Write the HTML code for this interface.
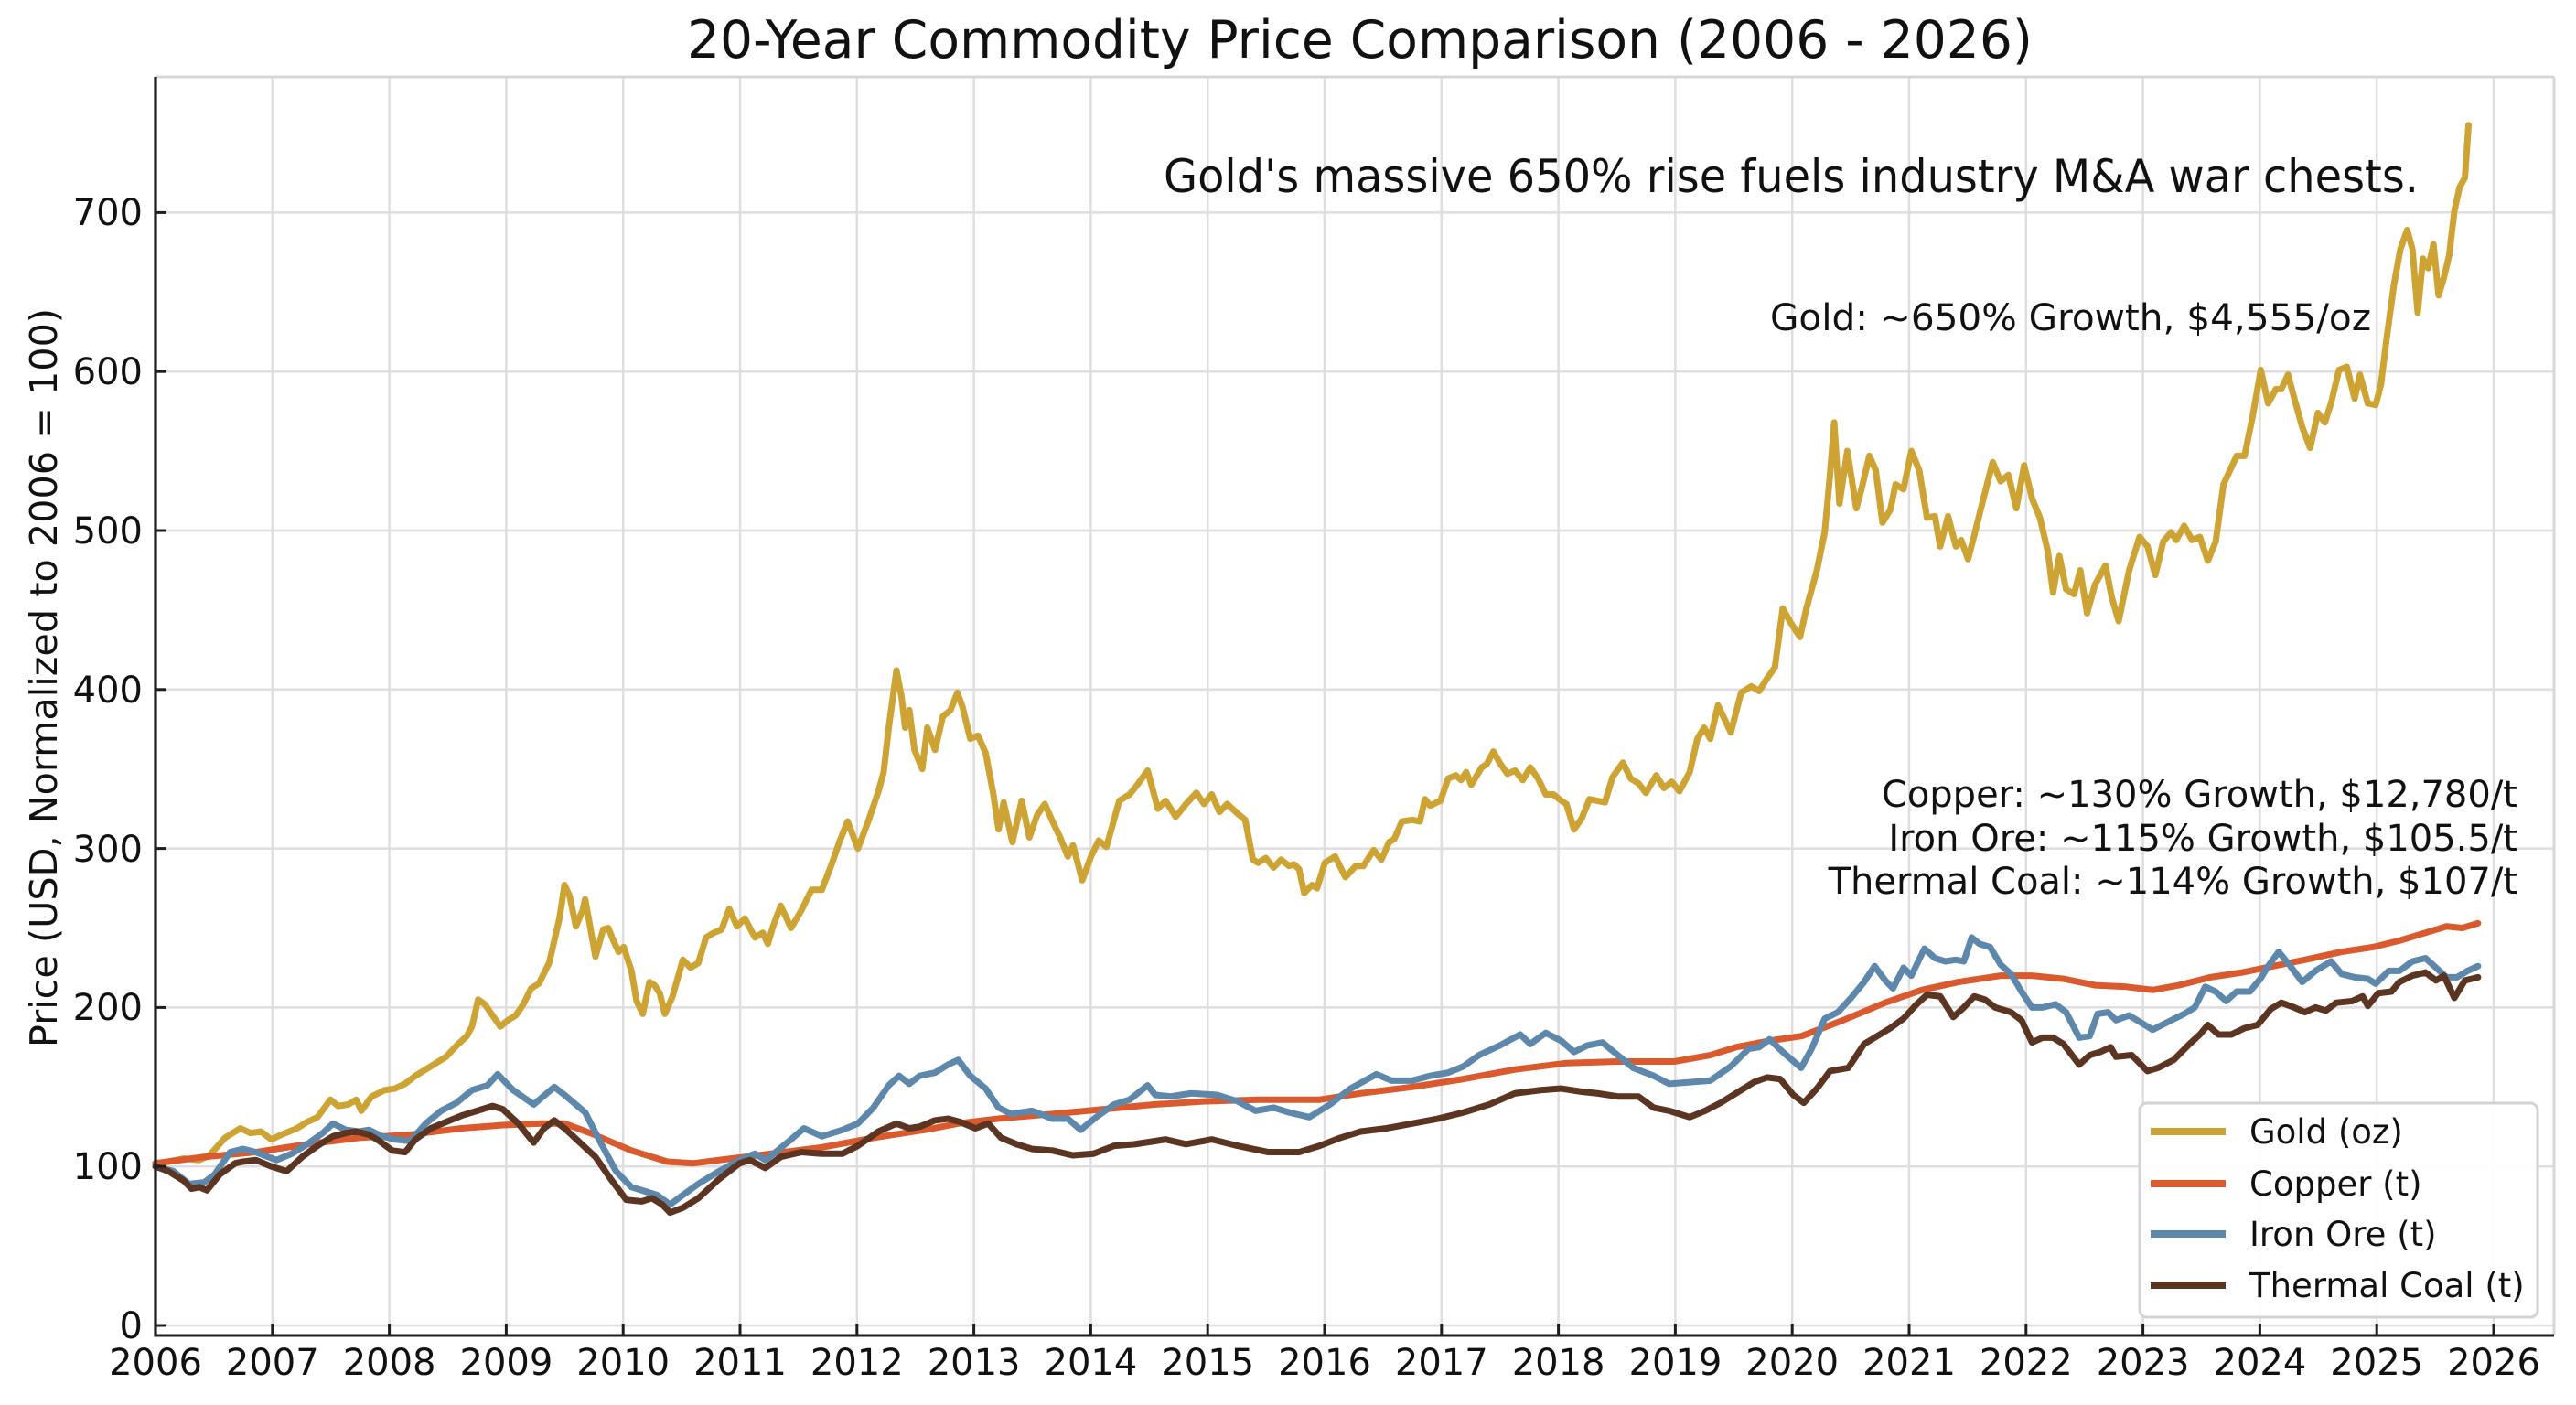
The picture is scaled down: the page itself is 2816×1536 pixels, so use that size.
<!DOCTYPE html>
<html>
<head>
<meta charset="utf-8">
<style>
  html,body{margin:0;padding:0;background:#ffffff;}
  svg{display:block;}
  text{font-family:"DejaVu Sans","Liberation Sans",sans-serif;fill:#111;}
</style>
</head>
<body>
<svg xmlns="http://www.w3.org/2000/svg" width="2816" height="1536" viewBox="0 0 2816 1536">
  <rect x="0" y="0" width="2816" height="1536" fill="#ffffff"/>

  <!-- grid -->
  <g stroke="#e0dde0" stroke-width="2.5">
    <line x1="297.8" y1="84" x2="297.8" y2="1460"/>
    <line x1="425.6" y1="84" x2="425.6" y2="1460"/>
    <line x1="553.4" y1="84" x2="553.4" y2="1460"/>
    <line x1="681.2" y1="84" x2="681.2" y2="1460"/>
    <line x1="809" y1="84" x2="809" y2="1460"/>
    <line x1="936.8" y1="84" x2="936.8" y2="1460"/>
    <line x1="1064.6" y1="84" x2="1064.6" y2="1460"/>
    <line x1="1192.4" y1="84" x2="1192.4" y2="1460"/>
    <line x1="1320.2" y1="84" x2="1320.2" y2="1460"/>
    <line x1="1448" y1="84" x2="1448" y2="1460"/>
    <line x1="1575.8" y1="84" x2="1575.8" y2="1460"/>
    <line x1="1703.6" y1="84" x2="1703.6" y2="1460"/>
    <line x1="1831.4" y1="84" x2="1831.4" y2="1460"/>
    <line x1="1959.2" y1="84" x2="1959.2" y2="1460"/>
    <line x1="2087" y1="84" x2="2087" y2="1460"/>
    <line x1="2214.8" y1="84" x2="2214.8" y2="1460"/>
    <line x1="2342.6" y1="84" x2="2342.6" y2="1460"/>
    <line x1="2470.4" y1="84" x2="2470.4" y2="1460"/>
    <line x1="2598.2" y1="84" x2="2598.2" y2="1460"/>
    <line x1="2726" y1="84" x2="2726" y2="1460"/>
    <line x1="170" y1="1449" x2="2792" y2="1449"/>
    <line x1="170" y1="1275.2" x2="2792" y2="1275.2"/>
    <line x1="170" y1="1101.4" x2="2792" y2="1101.4"/>
    <line x1="170" y1="927.6" x2="2792" y2="927.6"/>
    <line x1="170" y1="753.8" x2="2792" y2="753.8"/>
    <line x1="170" y1="580" x2="2792" y2="580"/>
    <line x1="170" y1="406.2" x2="2792" y2="406.2"/>
    <line x1="170" y1="232.4" x2="2792" y2="232.4"/>
  </g>

  <!-- light top/right frame -->
  <line x1="170" y1="84" x2="2792" y2="84" stroke="#d8d6d8" stroke-width="3"/>
  <line x1="2792" y1="84" x2="2792" y2="1460" stroke="#d8d6d8" stroke-width="3"/>

  <!-- series -->
  <g transform="translate(170,1449) scale(127.8,-1.738)" fill="none" stroke-linejoin="round" stroke-linecap="round">
    <polyline vector-effect="non-scaling-stroke" stroke="#CDA433" stroke-width="7" points="0,102 0.11,103 0.242,105 0.374,104 0.462,107 0.594,118 0.726,124 0.814,121 0.902,122 0.99,117 1.078,120 1.21,124 1.298,128 1.386,131 1.496,142 1.563,138 1.65,139 1.717,142 1.761,135 1.849,144 1.959,148 2.047,149 2.135,152 2.223,157 2.311,161 2.399,165 2.487,169 2.575,176 2.663,182 2.707,188 2.76,205 2.817,202 2.883,195 2.949,188 3.015,192 3.081,195 3.147,202 3.213,212 3.279,215 3.367,228 3.455,256 3.499,277 3.543,270 3.596,251 3.653,261 3.675,268 3.71,254 3.763,232 3.829,249 3.873,250 3.917,242 3.961,235 4.005,238 4.071,223 4.115,204 4.168,196 4.225,216 4.269,214 4.313,209 4.357,196 4.423,207 4.511,230 4.577,225 4.643,228 4.709,244 4.775,247 4.842,249 4.908,262 4.974,251 5.04,256 5.128,244 5.194,247 5.238,240 5.282,251 5.348,264 5.436,250 5.524,261 5.612,274 5.7,274 5.788,291 5.854,305 5.92,317 6.008,300 6.096,317 6.184,336 6.228,348 6.272,376 6.338,412 6.382,395 6.412,376 6.448,387 6.492,362 6.558,350 6.602,376 6.668,362 6.734,383 6.8,387 6.859,398 6.903,389 6.969,369 7.035,371 7.101,360 7.167,334 7.211,312 7.255,329 7.33,304 7.409,330 7.475,307 7.541,321 7.607,328 7.673,317 7.738,307 7.804,295 7.848,302 7.927,280 8.002,295 8.068,305 8.134,301 8.244,330 8.332,334 8.398,340 8.486,349 8.574,325 8.64,330 8.727,320 8.815,328 8.903,335 8.969,328 9.035,334 9.101,323 9.167,328 9.255,322 9.321,318 9.387,293 9.431,291 9.497,294 9.563,288 9.629,293 9.695,289 9.738,290 9.782,287 9.826,272 9.892,277 9.936,275 10.002,291 10.09,295 10.178,282 10.266,289 10.332,289 10.42,299 10.486,293 10.552,304 10.596,306 10.662,317 10.749,318 10.815,317 10.859,331 10.903,327 10.991,330 11.057,344 11.123,346 11.167,343 11.211,348 11.255,340 11.343,351 11.387,353 11.444,361 11.497,354 11.563,347 11.629,349 11.695,343 11.76,351 11.826,344 11.892,334 11.958,334 12.024,330 12.068,328 12.134,312 12.2,319 12.266,331 12.332,330 12.398,329 12.464,345 12.552,354 12.618,344 12.684,341 12.749,335 12.837,346 12.903,338 12.969,342 13.035,336 13.123,348 13.189,369 13.246,376 13.299,369 13.365,390 13.475,373 13.563,398 13.65,402 13.717,399 13.785,407 13.852,414 13.919,451 13.987,442 14.067,433 14.121,451 14.211,475 14.278,499 14.323,535 14.359,568 14.404,517 14.471,550 14.548,514 14.592,526 14.66,547 14.714,538 14.772,505 14.839,513 14.884,529 14.952,526 15.019,550 15.086,538 15.153,508 15.221,509 15.266,490 15.333,509 15.4,490 15.445,494 15.504,482 15.557,497 15.625,517 15.715,543 15.782,531 15.849,535 15.917,514 15.984,541 16.052,520 16.119,508 16.186,487 16.231,461 16.285,484 16.343,463 16.41,460 16.464,475 16.522,448 16.59,466 16.68,478 16.733,458 16.792,443 16.882,475 16.971,496 17.039,490 17.106,472 17.173,493 17.241,499 17.285,494 17.353,503 17.42,494 17.487,496 17.555,481 17.622,493 17.689,529 17.802,547 17.869,547 17.936,571 18.008,601 18.071,580 18.138,589 18.183,589 18.241,598 18.295,583 18.363,565 18.43,552 18.497,574 18.556,568 18.609,580 18.677,601 18.744,603 18.811,583 18.856,598 18.923,580 18.991,579 19.036,592 19.081,619 19.148,655 19.202,677 19.26,689 19.305,677 19.35,637 19.395,671 19.44,665 19.485,680 19.529,648 19.574,659 19.619,673 19.664,701 19.709,716 19.754,722 19.785,755"/>
    <polyline vector-effect="non-scaling-stroke" stroke="#DA5A2E" stroke-width="7" points="0,102 0.418,106 0.858,109 1.298,114 1.739,118 2.179,120 2.619,124 2.97,126 3.3,127 3.5,127 3.719,121 4.071,110 4.379,103 4.6,102 4.82,104 5.26,108 5.7,112 6.14,118 6.58,123 6.866,127 7.2,130 7.673,133 8.112,136 8.552,139 8.991,141 9.431,142 9.958,142 10.31,146 10.749,150 11.189,155 11.629,161 12.068,165 12.508,166 12.991,166 13.299,170 13.519,175 13.8,179 14.08,182 14.436,192 14.795,203 15.108,211 15.422,216 15.782,220 16.051,220 16.32,218 16.589,214 16.859,213 17.083,211 17.308,214 17.577,219 17.846,222 18.116,226 18.385,230 18.7,235 18.969,238 19.193,242 19.373,246 19.597,251 19.732,250 19.866,253"/>
    <polyline vector-effect="non-scaling-stroke" stroke="#5D88AC" stroke-width="7" points="0,100 0.154,97 0.286,89 0.418,90 0.506,95 0.638,109 0.748,111 0.858,109 1.034,104 1.166,108 1.298,114 1.43,121 1.518,127 1.629,123 1.739,122 1.827,123 1.937,119 2.047,117 2.179,116 2.311,127 2.443,135 2.575,140 2.707,148 2.839,151 2.927,158 3.059,148 3.235,139 3.411,150 3.499,145 3.675,134 3.807,115 3.939,97 4.071,87 4.159,85 4.291,82 4.401,76 4.511,82 4.643,89 4.82,97 4.996,104 5.128,108 5.216,104 5.304,109 5.436,117 5.546,124 5.7,119 5.876,123 6.008,127 6.14,137 6.272,151 6.36,157 6.448,152 6.536,157 6.668,159 6.778,164 6.866,167 6.969,157 7.101,149 7.211,137 7.321,133 7.497,135 7.673,130 7.804,130 7.914,123 8.046,131 8.2,139 8.332,142 8.486,151 8.552,145 8.684,144 8.859,146 9.079,145 9.255,141 9.409,135 9.563,137 9.695,134 9.87,131 10.046,139 10.222,149 10.442,158 10.574,154 10.749,154 10.903,157 11.057,159 11.189,163 11.321,170 11.497,176 11.673,183 11.76,177 11.892,184 12.024,179 12.134,172 12.244,176 12.376,178 12.508,170 12.64,162 12.815,157 12.947,152 13.123,153 13.299,154 13.475,163 13.627,174 13.717,175 13.807,180 13.919,172 14.076,162 14.166,174 14.278,193 14.39,197 14.503,206 14.615,216 14.705,226 14.795,217 14.862,212 14.952,225 15.019,220 15.131,237 15.221,231 15.31,229 15.4,230 15.468,229 15.535,244 15.602,240 15.692,238 15.782,227 15.872,221 15.961,210 16.051,200 16.141,200 16.253,202 16.343,197 16.455,181 16.545,182 16.612,196 16.702,197 16.769,192 16.882,195 16.994,190 17.083,186 17.218,191 17.353,196 17.443,200 17.532,213 17.622,210 17.712,204 17.801,210 17.914,210 18.004,218 18.071,226 18.161,235 18.251,227 18.363,216 18.475,223 18.609,229 18.699,221 18.811,219 18.924,218 18.991,215 19.103,223 19.193,223 19.305,229 19.417,231 19.507,225 19.597,219 19.687,219 19.776,223 19.866,226"/>
    <polyline vector-effect="non-scaling-stroke" stroke="#5B3422" stroke-width="7" points="0,100 0.11,97 0.242,91 0.308,86 0.374,87 0.44,85 0.55,95 0.682,102 0.748,103 0.858,104 0.99,100 1.122,97 1.254,106 1.386,113 1.518,119 1.629,121 1.717,122 1.827,120 1.915,116 2.025,110 2.135,109 2.223,117 2.355,124 2.487,128 2.619,132 2.751,135 2.883,138 2.971,136 3.103,127 3.235,115 3.323,124 3.411,129 3.499,124 3.631,115 3.763,106 3.895,92 4.027,79 4.159,78 4.247,80 4.335,76 4.401,71 4.511,74 4.643,80 4.82,92 4.996,102 5.084,104 5.216,99 5.348,106 5.524,109 5.7,108 5.876,108 6.008,113 6.184,122 6.338,127 6.448,124 6.536,125 6.668,129 6.778,130 6.881,128 7.013,124 7.123,127 7.233,118 7.365,114 7.497,111 7.673,110 7.848,107 8.024,108 8.2,113 8.376,114 8.64,117 8.815,114 9.035,117 9.255,113 9.519,109 9.782,109 9.958,113 10.134,118 10.31,122 10.53,124 10.749,127 10.969,130 11.189,134 11.409,139 11.629,146 11.848,148 12.024,149 12.2,147 12.332,146 12.508,144 12.684,144 12.815,137 12.947,135 13.123,131 13.255,135 13.387,140 13.519,146 13.672,153 13.785,156 13.897,155 14.009,145 14.099,140 14.211,149 14.323,160 14.48,162 14.615,177 14.727,182 14.839,187 14.952,193 15.064,202 15.153,208 15.266,207 15.378,194 15.468,200 15.557,207 15.647,205 15.737,200 15.872,197 15.961,192 16.051,178 16.141,181 16.231,181 16.32,177 16.455,164 16.545,170 16.635,172 16.724,175 16.769,169 16.904,170 17.038,160 17.128,162 17.263,167 17.398,177 17.487,183 17.555,189 17.645,183 17.757,183 17.869,187 17.981,189 18.093,199 18.183,203 18.295,200 18.385,197 18.475,200 18.565,198 18.654,203 18.789,204 18.879,207 18.924,201 19.013,209 19.126,210 19.193,216 19.305,220 19.417,222 19.507,217 19.574,220 19.664,206 19.754,217 19.866,219"/>
  </g>

  <!-- spines -->
  <line x1="170" y1="84" x2="170" y2="1461.5" stroke="#1e1e1e" stroke-width="3.2"/>
  <line x1="168.5" y1="1460" x2="2792" y2="1460" stroke="#1e1e1e" stroke-width="3"/>

  <!-- ticks (inward) -->
  <g stroke="#1e1e1e" stroke-width="3">
    <line x1="297.8" y1="1460" x2="297.8" y2="1447"/>
    <line x1="425.6" y1="1460" x2="425.6" y2="1447"/>
    <line x1="553.4" y1="1460" x2="553.4" y2="1447"/>
    <line x1="681.2" y1="1460" x2="681.2" y2="1447"/>
    <line x1="809" y1="1460" x2="809" y2="1447"/>
    <line x1="936.8" y1="1460" x2="936.8" y2="1447"/>
    <line x1="1064.6" y1="1460" x2="1064.6" y2="1447"/>
    <line x1="1192.4" y1="1460" x2="1192.4" y2="1447"/>
    <line x1="1320.2" y1="1460" x2="1320.2" y2="1447"/>
    <line x1="1448" y1="1460" x2="1448" y2="1447"/>
    <line x1="1575.8" y1="1460" x2="1575.8" y2="1447"/>
    <line x1="1703.6" y1="1460" x2="1703.6" y2="1447"/>
    <line x1="1831.4" y1="1460" x2="1831.4" y2="1447"/>
    <line x1="1959.2" y1="1460" x2="1959.2" y2="1447"/>
    <line x1="2087" y1="1460" x2="2087" y2="1447"/>
    <line x1="2214.8" y1="1460" x2="2214.8" y2="1447"/>
    <line x1="2342.6" y1="1460" x2="2342.6" y2="1447"/>
    <line x1="2470.4" y1="1460" x2="2470.4" y2="1447"/>
    <line x1="2598.2" y1="1460" x2="2598.2" y2="1447"/>
    <line x1="2726" y1="1460" x2="2726" y2="1447"/>
    <line x1="170" y1="1449" x2="182" y2="1449"/>
    <line x1="170" y1="1275.2" x2="182" y2="1275.2"/>
    <line x1="170" y1="1101.4" x2="182" y2="1101.4"/>
    <line x1="170" y1="927.6" x2="182" y2="927.6"/>
    <line x1="170" y1="753.8" x2="182" y2="753.8"/>
    <line x1="170" y1="580" x2="182" y2="580"/>
    <line x1="170" y1="406.2" x2="182" y2="406.2"/>
    <line x1="170" y1="232.4" x2="182" y2="232.4"/>
  </g>

  <!-- y tick labels -->
  <g font-size="40" text-anchor="end">
    <text x="156" y="1463">0</text>
    <text x="156" y="1289">100</text>
    <text x="156" y="1115">200</text>
    <text x="156" y="942">300</text>
    <text x="156" y="768">400</text>
    <text x="156" y="594">500</text>
    <text x="156" y="420">600</text>
    <text x="156" y="246">700</text>
  </g>

  <!-- x tick labels -->
  <g font-size="40" text-anchor="middle">
    <text x="170" y="1503">2006</text>
    <text x="297.8" y="1503">2007</text>
    <text x="425.6" y="1503">2008</text>
    <text x="553.4" y="1503">2009</text>
    <text x="681.2" y="1503">2010</text>
    <text x="809" y="1503">2011</text>
    <text x="936.8" y="1503">2012</text>
    <text x="1064.6" y="1503">2013</text>
    <text x="1192.4" y="1503">2014</text>
    <text x="1320.2" y="1503">2015</text>
    <text x="1448" y="1503">2016</text>
    <text x="1575.8" y="1503">2017</text>
    <text x="1703.6" y="1503">2018</text>
    <text x="1831.4" y="1503">2019</text>
    <text x="1959.2" y="1503">2020</text>
    <text x="2087" y="1503">2021</text>
    <text x="2214.8" y="1503">2022</text>
    <text x="2342.6" y="1503">2023</text>
    <text x="2470.4" y="1503">2024</text>
    <text x="2598.2" y="1503">2025</text>
    <text x="2726" y="1503">2026</text>
  </g>

  <!-- y-axis label -->
  <text transform="translate(62,741) rotate(-90)" font-size="41" text-anchor="middle" textLength="808" lengthAdjust="spacingAndGlyphs">Price (USD, Normalized to 2006 = 100)</text>

  <!-- title -->
  <text x="751" y="63" font-size="57" textLength="1471" lengthAdjust="spacingAndGlyphs">20-Year Commodity Price Comparison (2006 - 2026)</text>

  <!-- annotations -->
  <text x="1272" y="210" font-size="50" textLength="1372" lengthAdjust="spacingAndGlyphs">Gold's massive 650% rise fuels industry M&amp;A war chests.</text>
  <text x="1935" y="361" font-size="40" textLength="657" lengthAdjust="spacingAndGlyphs">Gold: ~650% Growth, $4,555/oz</text>
  <text x="2752" y="882" font-size="40" text-anchor="end">Copper: ~130% Growth, $12,780/t</text>
  <text x="2752" y="930" font-size="40" text-anchor="end">Iron Ore: ~115% Growth, $105.5/t</text>
  <text x="2752" y="977" font-size="40" text-anchor="end">Thermal Coal: ~114% Growth, $107/t</text>

  <!-- legend -->
  <rect x="2339" y="1206" width="435" height="234" rx="8" ry="8" fill="#ffffff" fill-opacity="0.92" stroke="#d4d2d4" stroke-width="3"/>
  <g stroke-width="8">
    <line x1="2351" y1="1237" x2="2433" y2="1237" stroke="#CDA433"/>
    <line x1="2351" y1="1294" x2="2433" y2="1294" stroke="#DA5A2E"/>
    <line x1="2351" y1="1349" x2="2433" y2="1349" stroke="#5D88AC"/>
    <line x1="2351" y1="1405" x2="2433" y2="1405" stroke="#5B3422"/>
  </g>
  <g font-size="37">
    <text x="2459" y="1250">Gold (oz)</text>
    <text x="2459" y="1307">Copper (t)</text>
    <text x="2459" y="1362">Iron Ore (t)</text>
    <text x="2459" y="1418">Thermal Coal (t)</text>
  </g>
</svg>
</body>
</html>
